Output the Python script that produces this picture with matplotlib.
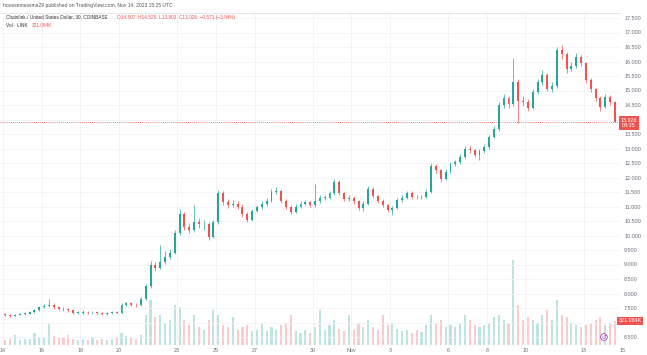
"""
Chainlink / USD 30m chart snapshot (TradingView style)
Candles resampled to 6h bars, volume overlay at the bottom
"""

import numpy as np
import matplotlib
matplotlib.use('Agg')
import matplotlib.pyplot as plt
import matplotlib.transforms as mtransforms

# TradingView colours
UP = '#26a69a'
DOWN = '#ef5350'
GRID = '#f0f3fa'
TEXT = '#6a6d78'

# 6h bars from Oct 14 00:00 UTC, value = days since Oct 14
first_open = 7.28
closes = [
    7.25, 7.24, 7.27, 7.30, 7.31, 7.35, 7.42, 7.53, 7.57, 7.60,
    7.52, 7.48, 7.45, 7.42, 7.33, 7.34, 7.37, 7.35, 7.36, 7.32,
    7.29, 7.33, 7.36, 7.33, 7.62, 7.66, 7.61, 7.60, 7.80, 8.25,
    9.00, 8.88, 9.10, 9.26, 9.40, 10.10, 10.75, 10.30, 10.20, 10.45,
    10.38, 10.40, 9.95, 10.45, 11.45, 11.15, 11.05, 11.10, 11.00, 10.75,
    10.55, 10.85, 10.97, 11.10, 11.20, 11.50, 11.55, 11.20, 11.00, 10.82,
    11.00, 11.10, 11.14, 11.05, 11.20, 11.30, 11.30, 11.45, 11.85, 11.45,
    11.25, 11.30, 11.18, 10.95, 11.10, 11.62, 11.35, 11.20, 11.05, 10.88,
    10.95, 11.22, 11.30, 11.48, 11.33, 11.32, 11.33, 11.50, 12.40, 12.25,
    11.95, 12.20, 12.45, 12.52, 12.70, 12.98, 12.95, 12.78, 12.90, 13.05,
    13.40, 13.68, 14.50, 14.75, 14.52, 15.30, 14.65, 14.60, 14.40, 14.95,
    15.28, 15.55, 15.05, 15.15, 16.40, 16.25, 15.75, 15.85, 16.15, 15.95,
    15.35, 15.05, 14.75, 14.42, 14.78, 14.60, 13.93,
]
highs = [
    7.32, 7.29, 7.31, 7.34, 7.36, 7.40, 7.47, 7.58, 7.63, 7.80,
    7.66, 7.56, 7.53, 7.50, 7.46, 7.39, 7.42, 7.41, 7.41, 7.40,
    7.35, 7.37, 7.40, 7.40, 7.68, 7.72, 7.70, 7.66, 7.88, 8.32,
    9.12, 9.08, 9.67, 9.45, 9.55, 10.20, 10.92, 10.82, 10.42, 11.05,
    10.60, 10.55, 10.48, 10.55, 11.58, 11.52, 11.25, 11.22, 11.18, 11.08,
    10.82, 10.92, 11.05, 11.20, 11.30, 11.60, 11.66, 11.60, 11.26, 11.06,
    11.08, 11.18, 11.22, 11.20, 11.78, 11.40, 11.38, 11.52, 11.95, 11.90,
    11.50, 11.38, 11.35, 11.22, 11.18, 11.70, 11.68, 11.40, 11.25, 11.10,
    11.02, 11.28, 11.38, 11.55, 11.52, 11.40, 11.40, 11.60, 12.50, 12.48,
    12.30, 12.28, 12.55, 12.62, 12.80, 13.08, 13.10, 13.00, 12.98, 13.15,
    13.48, 13.78, 14.62, 14.88, 14.82, 16.12, 15.40, 14.80, 14.70, 15.05,
    15.38, 15.70, 15.60, 15.28, 16.50, 16.57, 16.32, 15.98, 16.30, 16.22,
    16.00, 15.42, 15.10, 14.80, 14.88, 14.85, 14.65,
]
lows = [
    7.21, 7.20, 7.21, 7.25, 7.27, 7.29, 7.33, 7.40, 7.49, 7.52,
    7.48, 7.43, 7.40, 7.37, 7.29, 7.29, 7.30, 7.31, 7.31, 7.28,
    7.25, 7.26, 7.30, 7.29, 7.31, 7.57, 7.56, 7.55, 7.57, 7.76,
    8.20, 8.78, 8.84, 9.02, 9.18, 9.35, 10.02, 10.18, 10.08, 10.12,
    10.25, 10.20, 9.85, 9.90, 10.40, 11.05, 10.95, 10.97, 10.90, 10.65,
    10.45, 10.50, 10.80, 10.92, 11.02, 11.15, 11.42, 11.12, 10.92, 10.75,
    10.78, 10.95, 11.04, 10.98, 11.00, 11.12, 11.22, 11.25, 11.40, 11.38,
    11.18, 11.18, 11.10, 10.88, 10.85, 11.05, 11.28, 11.12, 10.98, 10.80,
    10.70, 10.90, 11.15, 11.25, 11.26, 11.25, 11.26, 11.28, 11.45, 12.15,
    11.85, 11.90, 12.15, 12.38, 12.45, 12.65, 12.85, 12.70, 12.62, 12.85,
    13.00, 13.35, 13.62, 14.40, 14.40, 14.45, 13.88, 14.45, 14.30, 14.35,
    14.88, 15.20, 14.98, 14.95, 15.10, 16.10, 15.62, 15.68, 15.78, 15.85,
    15.25, 14.95, 14.65, 14.30, 14.38, 14.50, 13.90,
]
volumes_k = [
    65, 78, 130, 65, 78, 78, 156, 104, 91, 286,
    117, 91, 104, 130, 78, 65, 78, 65, 91, 65,
    78, 65, 78, 104, 156, 117, 91, 78, 130, 390,
    585, 364, 390, 286, 325, 520, 494, 325, 260, 390,
    234, 195, 325, 455, 390, 260, 234, 364, 195, 234,
    260, 182, 195, 286, 182, 234, 195, 260, 286, 390,
    182, 156, 195, 156, 234, 455, 195, 260, 325, 208,
    182, 390, 195, 286, 234, 325, 234, 195, 390, 260,
    286, 208, 182, 195, 156, 195, 169, 260, 390, 286,
    325, 234, 260, 234, 286, 390, 325, 260, 234, 260,
    286, 364, 390, 325, 286, 1105, 520, 325, 364, 325,
    286, 390, 455, 325, 585, 390, 364, 286, 260, 234,
    260, 286, 325, 364, 260, 286, 312,
]

# date axis: days since Oct 14
tick_days = [0, 2, 4, 6, 9, 11, 13, 16, 18, 20, 23, 25, 27, 30]
tick_labels = ['14', '16', '18', '20', '23', '25', '27', '30', 'Nov', '3', '6', '8', '10', '13']
price_ticks = np.arange(6.5, 17.51, 0.5)
hidden_ticks = [14.0, 7.0]   # covered by the price / volume labels

last_price = 13.926
last_volume = '321.084K'


def draw_chart():
    closes_a = np.array(closes)
    opens_a = np.r_[first_open, closes_a[:-1]]
    highs_a = np.array(highs)
    lows_a = np.array(lows)
    vols = np.array(volumes_k)
    t = np.arange(len(closes_a)) * 0.25 + 0.125
    up = closes_a >= opens_a
    colors = np.where(up, UP, DOWN)

    fig = plt.figure(figsize=(6.47, 3.55), dpi=100)
    fig.patch.set_facecolor('white')
    W, H = 647.0, 355.0
    ax = fig.add_axes([0, 10 / H, 620 / W, 332 / H])

    # volume underneath
    axv = ax.twinx()
    axv.bar(t, vols, width=0.11, color=colors, alpha=0.3, linewidth=0)
    axv.set_ylim(0, 332 * 13)
    axv.axis('off')
    ax.set_zorder(axv.get_zorder() + 1)
    ax.patch.set_visible(False)

    # candles
    ax.vlines(t, lows_a, highs_a, colors=colors, linewidth=0.5, zorder=3)
    body_bottom = np.minimum(opens_a, closes_a)
    body_height = np.maximum(np.abs(closes_a - opens_a), 0.02)
    ax.bar(t, body_height, bottom=body_bottom, width=0.1, color=colors,
           linewidth=0, zorder=4)

    ax.set_xlim(-3 / 19.35, 617 / 19.35)
    ax.set_ylim(17.5 - 327 / 29, 17.5 + 5 / 29)

    # grid
    for d in tick_days:
        ax.axvline(d, color=GRID, linewidth=0.6, zorder=0)
    for p in price_ticks:
        ax.axhline(p, color=GRID, linewidth=0.6, zorder=0)

    # last price line
    ax.axhline(last_price, color=DOWN, linewidth=0.6, linestyle=(0, (1, 1.5)), zorder=2)

    for s in ['left', 'right', 'bottom']:
        ax.spines[s].set_visible(False)
    ax.spines['top'].set_color('#e0e3eb')
    ax.spines['top'].set_linewidth(0.6)

    font = 'Liberation Sans'
    ax.set_xticks(tick_days)
    ax.set_xticklabels(tick_labels, fontsize=3.9, color=TEXT, family=font)
    ax.tick_params(axis='x', length=0, pad=2)
    trans = mtransforms.blended_transform_factory(ax.transData, ax.transAxes)
    ax.text(32, -0.008, '15', transform=trans, ha='center', va='top',
            fontsize=3.9, color=TEXT, family=font, clip_on=False)

    ax.yaxis.tick_right()
    ax.set_yticks(price_ticks)
    ax.set_yticklabels(['' if round(p, 1) in hidden_ticks else f'{p:.3f}' for p in price_ticks],
                       fontsize=3.9, color=TEXT, family=font)
    ax.tick_params(axis='y', length=0, pad=3)

    # header and legend
    fig.text(3 / W, 1 - 5 / H, 'houssemussma29 published on TradingView.com, Nov 14, 2023 15:25 UTC',
             fontsize=3.6, color='#555555', family=font, va='center')
    fig.text(6 / W, 1 - 17 / H, 'Chainlink / United States Dollar, 30, COINBASE',
             fontsize=3.4, color='#333333', family=font, va='center')
    fig.text(117 / W, 1 - 17 / H, 'O14.507  H14.525  L13.903  C13.926  \u22120.571 (\u22123.94%)',
             fontsize=3.4, color=DOWN, family=font, va='center')
    fig.text(6 / W, 1 - 25.5 / H, 'Vol \u00b7 LINK', fontsize=3.4, color='#333333',
             family=font, va='center')
    fig.text(32 / W, 1 - 25.5 / H, '321.084K', fontsize=3.4, color=DOWN,
             family=font, va='center')

    # price / volume labels on the scale
    fig.text(629 / W, 1 - 123 / H, '13.926\n04:35', fontsize=3.9, color='white',
             family=font, ha='center', va='center', linespacing=1.1,
             bbox=dict(boxstyle='square,pad=0.3', fc=DOWN, ec='none'))
    fig.text(630 / W, 1 - 321 / H, last_volume, fontsize=3.9, color='white',
             family=font, ha='center', va='center',
             bbox=dict(boxstyle='square,pad=0.3', fc=DOWN, ec='none'))
    # small logo circle
    fig.text(604 / W, 1 - 337 / H, '\u21ba', fontsize=4, color='#9c27b0',
             ha='center', va='center',
             bbox=dict(boxstyle='circle,pad=0.15', fc='white', ec='#9c27b0', lw=0.5))

    fig.savefig('out.png', dpi=100, facecolor='white')


if __name__ == '__main__':
    draw_chart()
